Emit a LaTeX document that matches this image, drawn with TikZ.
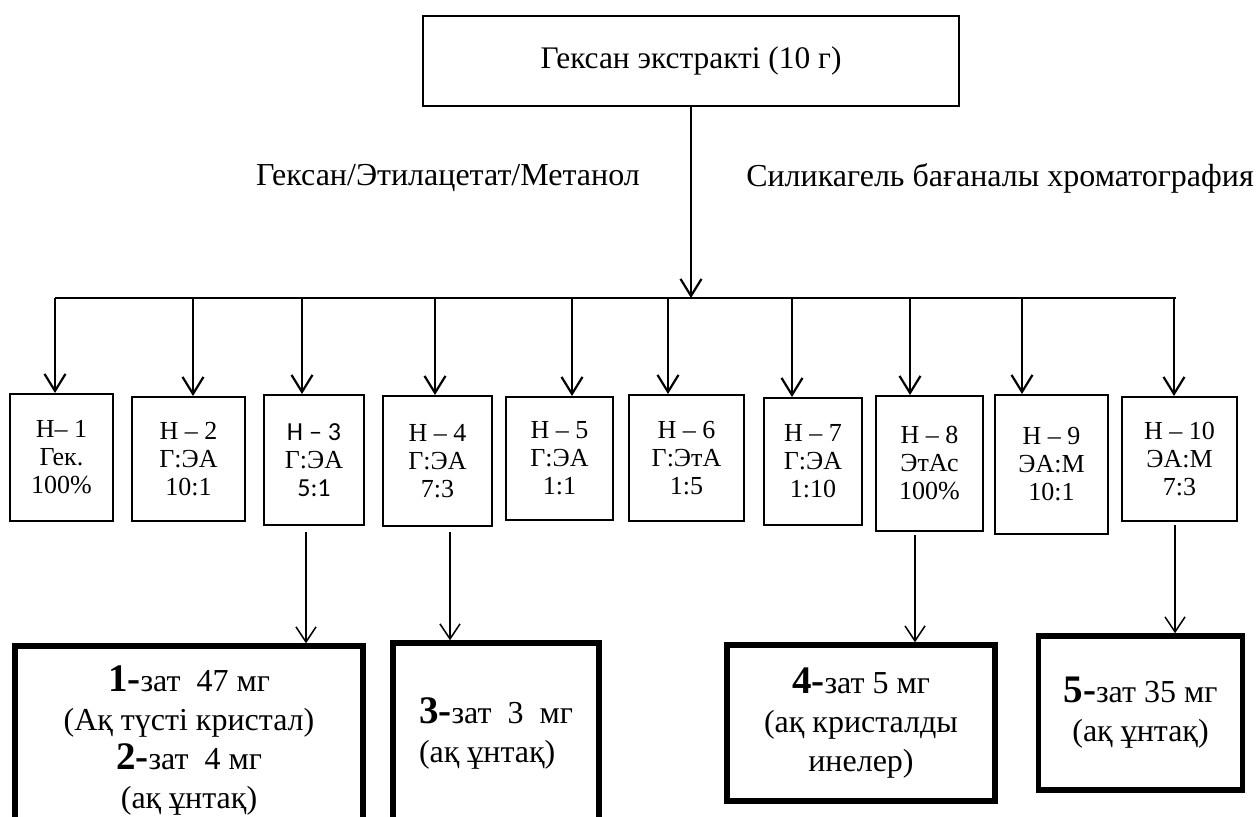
\documentclass[tikz,border=0pt]{standalone}
\usepackage{fontspec}
\setmainfont{Liberation Serif}
\newfontfamily\calfont{Carlito}
\usetikzlibrary{arrows.meta}
\newcommand\zatnum[1]{{\fontsize{19.5}{20}\selectfont\bfseries #1}}

\begin{document}
\begin{tikzpicture}[x=0.5pt,y=-0.5pt,
    frac/.style={draw,line width=1.2pt,inner sep=0pt,align=center,
      font=\fontsize{13}{14}\selectfont},
    zat/.style={draw,line width=2.75pt,inner sep=0pt,
      font=\fontsize{16}{19.5}\selectfont},
    arr/.style={line width=1.1pt,-{Straight Barb[length=8.5pt,width=10.5pt,line width=1.1pt]}},
    thinarr/.style={line width=0.75pt,-{Straight Barb[length=7.5pt,width=10pt,line width=0.75pt]}}]
    \clip (0,0) rectangle (1259,816);% page
    % extract and eluent
    \node[draw,line width=1pt,minimum width=268pt,minimum height=45pt,
      font=\fontsize{15.7}{18}\selectfont] (ext) at (691,60.5) {Гексан экстракті (10 г)};
    \node[font=\fontsize{16}{18}\selectfont] (solv) at (448,178) {Гексан/Этилацетат/Метанол};
    \node[font=\fontsize{16}{18}\selectfont] (col) at (1000,178) {Силикагель бағаналы хроматография};
    \coordinate (busL) at (55,298);
    \coordinate (busR) at (1176,298);
    \coordinate (busM) at (691,298);
    \draw[line width=1.1pt] (busL) -- (busR);% bus line
    \draw[arr] (ext) -- (busM);
    % fractions
    \node[frac,minimum width=51.3pt,minimum height=63.3pt] (h1) at (61.5,457.5) {Н– 1\\Гек.\\100\%};
    \node[frac,minimum width=56.3pt,minimum height=61.8pt] (h2) at (188.5,459) {Н – 2\\Г:ЭА\\10:1};
    \node[frac,minimum width=49.8pt,minimum height=64.8pt] (h3) at (314,460) {{\calfont Н – 3}\\Г:ЭА\\{\calfont 5:1}};
    \node[frac,minimum width=54.3pt,minimum height=64.8pt] (h4) at (437.5,461) {Н – 4\\Г:ЭА\\7:3};
    \node[frac,minimum width=53.3pt,minimum height=61.3pt] (h5) at (559.5,458.5) {Н – 5\\Г:ЭА\\1:1};
    \node[frac,minimum width=57.3pt,minimum height=62.8pt] (h6) at (686.5,458) {Н – 6\\Г:ЭтА\\1:5};
    \node[frac,minimum width=48.8pt,minimum height=63.3pt] (h7) at (813,461.5) {Н – 7\\Г:ЭА\\1:10};
    \node[frac,minimum width=53.3pt,minimum height=67.3pt] (h8) at (929.5,463.5) {Н – 8\\ЭтАс\\100\%};
    \node[frac,minimum width=56.3pt,minimum height=69.3pt] (h9) at (1051.5,464.5) {Н – 9\\ЭА:М\\10:1};
    \node[frac,minimum width=57.3pt,minimum height=61.8pt] (h10) at (1179.5,459) {Н – 10\\ЭА:М\\7:3};
    \foreach \i/\x in {1/55,2/193,3/302,4/435,5/572,6/668,7/792,8/910,9/1022,10/1174}{
      \coordinate (b\i) at (\x,298);
      \draw[arr] (b\i) -- (b\i |- h\i.north);
    }
    % compounds
    \node[zat,minimum width=174pt,minimum height=95pt,align=center] (z1) at (189,741)
      {\zatnum{1-}зат\ \ 47 мг\\(Ақ түсті кристал)\\\zatnum{2-}зат\ \ 4 мг\\(ақ ұнтақ)};
    \node[zat,minimum width=103pt,minimum height=90pt,align=left] (z2) at (496,733)
      {\zatnum{3-}зат\ \ 3\ \ мг\\(ақ ұнтақ)};
    \node[zat,minimum width=134pt,minimum height=78pt,align=center] (z3) at (861,723)
      {\zatnum{4-}зат 5 мг\\(ақ кристалды\\инелер)};
    \node[zat,minimum width=102pt,minimum height=77pt,align=center] (z4) at (1140.5,713)
      {\zatnum{5-}зат 35 мг\\(ақ ұнтақ)};
    \coordinate (d3) at (306,532);
    \coordinate (d4) at (450,532);
    \coordinate (d8) at (915,535);
    \coordinate (d10) at (1175,525);
    \draw[thinarr] (d3) -- (d3 |- z1.north);
    \draw[thinarr] (d4) -- (d4 |- z2.north);
    \draw[thinarr] (d8) -- (d8 |- z3.north);
    \draw[thinarr] (d10) -- (d10 |- z4.north);
\end{tikzpicture}
\end{document}
